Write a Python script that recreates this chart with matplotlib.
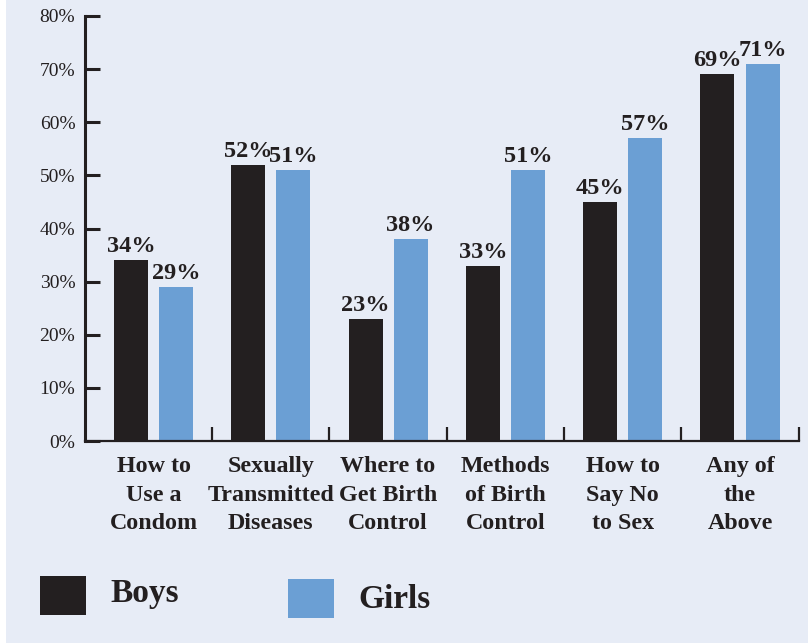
import numpy as np
import matplotlib.pyplot as plt
from matplotlib.patches import Rectangle

plt.rcParams["font.family"] = "serif"
plt.rcParams["font.serif"] = ["Liberation Serif", "DejaVu Serif"]

# data
categories = ["How to\nUse a\nCondom", "Sexually\nTransmitted\nDiseases",
              "Where to\nGet Birth\nControl", "Methods\nof Birth\nControl",
              "How to\nSay No\nto Sex", "Any of\nthe\nAbove"]
boys = [34, 52, 23, 33, 45, 69]
girls = [29, 51, 38, 51, 57, 71]
series_names = ["Boys", "Girls"]
yticks = [0, 10, 20, 30, 40, 50, 60, 70, 80]

BG = "#e7ecf6"
INK = "#231f20"
BLUE = "#6b9fd4"

fig = plt.figure(figsize=(8.08, 6.43), dpi=100)
fig.patch.set_facecolor("white")
# light panel behind everything (thin white strip on the left as in the reference)
fig.patches.append(Rectangle((6 / 808, 0), 1, 1, transform=fig.transFigure,
                             facecolor=BG, edgecolor="none", zorder=-10))

ax = fig.add_axes([85 / 808, 1 - 441 / 643, 714 / 808, 425 / 643])
ax.set_facecolor("none")

x = np.arange(len(categories))
w = 0.29
off = 0.192
ax.bar(x - off, boys, w, color=INK)
ax.bar(x + off, girls, w, color=BLUE)

for xi, b, g in zip(x, boys, girls):
    ax.text(xi - off, b + 0.6, f"{b}%", ha="center", va="bottom",
            fontsize=17.5, fontweight="bold", color=INK)
    ax.text(xi + off, g + 0.6, f"{g}%", ha="center", va="bottom",
            fontsize=17.5, fontweight="bold", color=INK)

ax.set_xlim(-0.584, len(categories) - 0.497)
ax.set_ylim(0, 80)

for s in ["top", "right"]:
    ax.spines[s].set_visible(False)
ax.spines["left"].set_linewidth(2.2)
ax.spines["bottom"].set_linewidth(1.6)
ax.spines["left"].set_color(INK)
ax.spines["bottom"].set_color(INK)

ax.set_yticks(yticks)
ax.set_yticklabels([f"{t}%" for t in yticks])
ax.tick_params(axis="y", direction="in", length=10.5, width=2.2, color=INK,
               labelsize=14, labelcolor=INK, pad=7)

ax.set_xticks(x)
ax.set_xticklabels(categories, fontsize=17.3, fontweight="bold", color=INK,
                   linespacing=1.47)
ax.tick_params(axis="x", which="major", length=0, pad=11)
ax.set_xticks(np.arange(len(categories)) + 0.5, minor=True)
ax.tick_params(axis="x", which="minor", direction="in", length=10, width=1.6,
               color=INK)

# legend drawn by hand at the bottom
fig.patches.append(Rectangle((40 / 808, 1 - 615 / 643), 46 / 808, 39 / 643,
                             transform=fig.transFigure, facecolor=INK,
                             edgecolor="none"))
fig.text(110 / 808, 1 - 602 / 643, series_names[0], fontsize=24,
         fontweight="bold", color=INK, va="baseline")
fig.patches.append(Rectangle((288 / 808, 1 - 618 / 643), 46 / 808, 39 / 643,
                             transform=fig.transFigure, facecolor=BLUE,
                             edgecolor="none"))
fig.text(358 / 808, 1 - 608 / 643, series_names[1], fontsize=24,
         fontweight="bold", color=INK, va="baseline")

fig.savefig("out.png", dpi=100)
